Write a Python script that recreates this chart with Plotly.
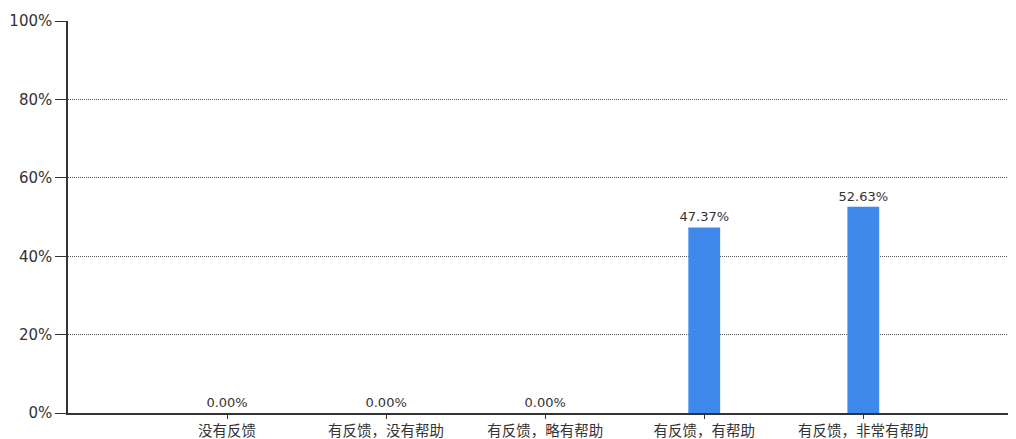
import plotly.graph_objects as go

categories = ["没有反馈", "有反馈，没有帮助", "有反馈，略有帮助", "有反馈，有帮助", "有反馈，非常有帮助"]
values = [0.00, 0.00, 0.00, 47.37, 52.63]
labels = [f"{v:.2f}%" for v in values]
y_ticks = [0, 20, 40, 60, 80, 100]
y_tick_text = [f"{t}%" for t in y_ticks]

fig = go.Figure(go.Bar(
    x=categories, y=values, text=labels, textposition="outside",
    constraintext="none",
    marker=dict(color="#3f88ec", line=dict(width=0)), width=0.2,
    textfont=dict(size=13, color="#333333", family="DejaVu Sans, sans-serif"),
    cliponaxis=False,
))

fig.update_layout(
    width=1008, height=431,
    margin=dict(l=60, r=0, t=13, b=26),
    paper_bgcolor="white", plot_bgcolor="white",
    showlegend=False,
    font=dict(family="Noto Sans CJK SC, DejaVu Sans, sans-serif", size=12, color="#333333"),
)
fig.update_xaxes(
    type="category", range=[-1, 4.96],
    showline=True, linecolor="#333333", linewidth=1.5,
    ticks="outside", ticklen=4, tickcolor="#333333",
    showgrid=False, tickfont=dict(size=14.5, color="#333333", family="Noto Sans CJK SC, sans-serif"),
)
fig.update_yaxes(
    range=[0, 100.05], tickvals=y_ticks, ticktext=y_tick_text,
    showline=True, linecolor="#333333", linewidth=1.5,
    ticks="outside", ticklen=11, tickcolor="#333333",
    showgrid=True, gridcolor="#555555", griddash="1px,1px", gridwidth=1,
    zeroline=False,
    tickfont=dict(size=15, color="#333333", family="DejaVu Sans, sans-serif"),
)

fig.write_html("out.html")
